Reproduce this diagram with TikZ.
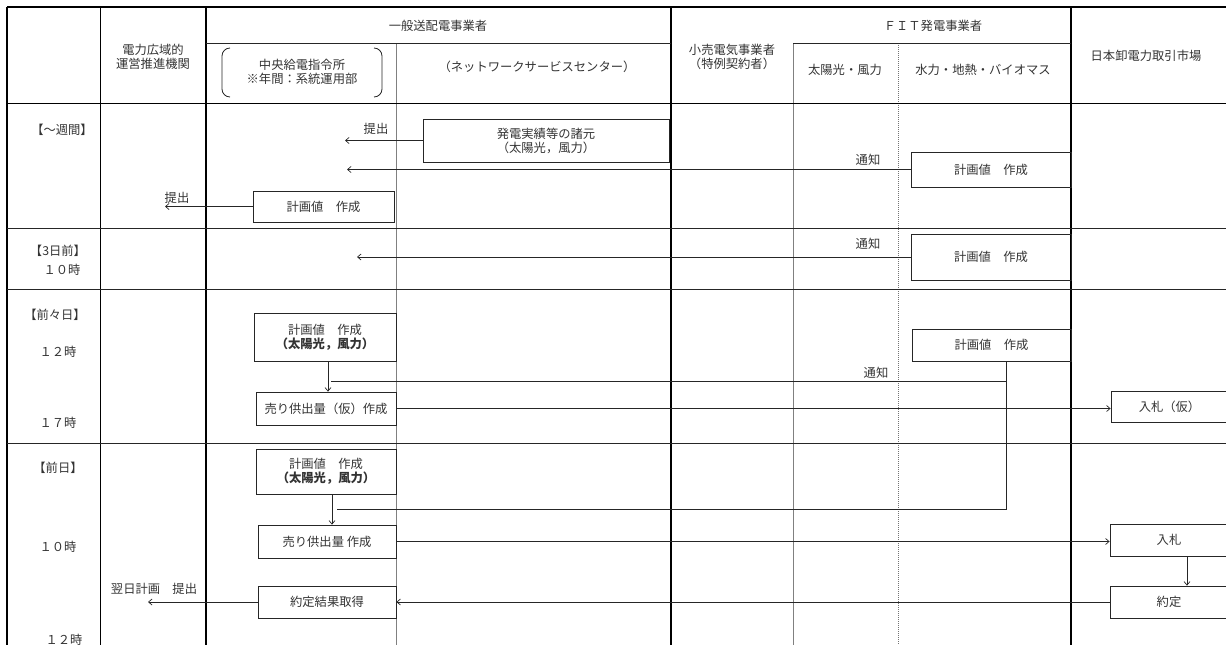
\documentclass[tikz,border=0pt]{standalone}
\usepackage{fontspec}
\setmainfont{Noto Sans CJK JP}
\usetikzlibrary{arrows.meta}
\begin{document}
\begin{tikzpicture}[x=1pt,y=-1pt,
  font=\fontsize{12.3}{14}\selectfont,
  txt/.style={text=black!80, inner sep=0pt, align=center},
  box/.style={draw=black!85, line width=0.8pt, text=black!80, inner sep=0pt, align=center},
  arr/.style={draw=black!85, line width=0.7pt, -{Straight Barb[length=3.5pt,width=6pt]}},
  ln/.style={draw=black!85, line width=0.7pt},
  thickl/.style={line width=1.4pt, black},
  medl/.style={line width=1pt, black},
  thinl/.style={line width=0.8pt, black!85},
  grayl/.style={line width=0.7pt, black!50},
  dotl/.style={line width=0.7pt, black!55, dash pattern=on 1pt off 1pt},
]
\useasboundingbox (0,0) rectangle (1226,645);
\clip (0,0) rectangle (1226,645);
% grid
\draw[thickl] (7,7) -- (1226,7);
\draw[thickl] (7,7) -- (7,645);
\draw[medl] (100,7) -- (100,645);
\draw[thickl] (206,7) -- (206,645);
\draw[thickl] (671,7) -- (671,645);
\draw[thickl] (1071,7) -- (1071,645);
\draw[grayl] (396,43) -- (396,645);
\draw[grayl] (793,43) -- (793,645);
\draw[dotl] (898,43) -- (898,645);
\draw[thinl] (206,43) -- (671,43);
\draw[thinl] (793,43) -- (1071,43);
\draw[medl] (7,103) -- (1226,103);
\foreach \yy in {228,289,443} \draw[thinl] (7,\yy) -- (1226,\yy);
% bracket
\draw[black!85, line width=0.8pt] (230,48) to[out=180,in=90] (222,56) -- (222,89) to[out=-90,in=180] (230,97);
\draw[black!85, line width=0.8pt] (374,48) to[out=0,in=90] (382,56) -- (382,89) to[out=-90,in=0] (374,97);
% header texts
\node[txt] (h1) at (438,26) {一般送配電事業者};
\node[txt] (h2) at (933,26) {ＦＩＴ発電事業者};
\node[txt] (h3) at (153,57) {電力広域的\\運営推進機関};
\node[txt] (h4) at (302,72) {中央給電指令所\\※年間：系統運用部};
\node[txt] (h5) at (537,67) {（ネットワークサービスセンター）};
\node[txt] (h6) at (732,57) {小売電気事業者\\（特例契約者）};
\node[txt] (h7) at (845,70) {太陽光・風力};
\node[txt] (h8) at (983,70) {水力・地熱・バイオマス};
\node[txt] (h9) at (1146,56) {日本卸電力取引市場};
% row labels
\node[txt] (r1) at (62,130) {【～週間】};
\node[txt] (r2) at (58,251) {【3日前】};
\node[txt] (r2t) at (62,270) {１０時};
\node[txt] (r3) at (55,315) {【前々日】};
\node[txt] (r3a) at (58,352) {１２時};
\node[txt] (r3b) at (58,423) {１７時};
\node[txt] (r4) at (58,468) {【前日】};
\node[txt] (r4a) at (58,547) {１０時};
\node[txt] (r4b) at (64,640) {１２時};
% boxes
\node[box, minimum width=246pt, minimum height=43pt] (spec) at (546,140.5) {発電実績等の諸元\\（太陽光，風力）};
\node[box, minimum width=160pt, minimum height=35pt] (fitA) at (991,169.5) {計画値　作成};
\node[box, minimum width=141pt, minimum height=31pt] (planA) at (323.5,206.5) {計画値　作成};
\node[box, minimum width=160pt, minimum height=46pt] (fitB) at (991,257) {計画値　作成};
\node[box, minimum width=142pt, minimum height=48pt] (planC) at (325,337) {計画値　作成\\{\bfseries （太陽光，風力）}};
\node[box, minimum width=140pt, minimum height=33pt] (sellC) at (326,408.5) {売り供出量（仮）作成};
\node[box, minimum width=159pt, minimum height=32pt] (fitC) at (991.5,345) {計画値　作成};
\node[box, minimum width=117pt, minimum height=31pt] (bidC) at (1169.5,406.5) {入札（仮）};
\node[box, minimum width=140pt, minimum height=45pt] (planD) at (326,471.5) {計画値　作成\\{\bfseries （太陽光，風力）}};
\node[box, minimum width=138pt, minimum height=33pt] (sellD) at (327,541.5) {売り供出量 作成};
\node[box, minimum width=138pt, minimum height=32pt] (resD) at (327,602) {約定結果取得};
\node[box, minimum width=118pt, minimum height=32pt] (bidD) at (1169,540) {入札};
\node[box, minimum width=118pt, minimum height=32pt] (yak) at (1169,602) {約定};
% free ends
\coordinate (e1) at (345,140.5);
\coordinate (e2) at (347,169.5);
\coordinate (e3) at (165,206.5);
\coordinate (e4) at (357,257);
\coordinate (e5) at (148,602);
\coordinate (k) at (1006,381);
\coordinate (j1) at (331,381);
\coordinate (j2) at (337,509);
% connectors
\draw[arr] (spec.west) -- (e1);
\draw[arr] (fitA.west) -- (e2);
\draw[arr] (planA.west) -- (e3);
\draw[arr] (fitB.west) -- (e4);
\draw[arr] ([xshift=3pt]planC.south) -- ([xshift=3pt]planC.south |- sellC.north);
\draw[ln] (fitC.south -| k) -- (k) -- (j1);
\draw[ln] (k) -- (k |- j2) -- (j2);
\draw[arr] (sellC.east) -- (sellC.east -| bidC.west);
\draw[arr] ([xshift=6pt]planD.south) -- ([xshift=6pt]planD.south |- sellD.north);
\draw[arr] (sellD.east) -- (sellD.east -| bidD.west);
\draw[arr] ([xshift=18pt]bidD.south) -- ([xshift=18pt]bidD.south |- yak.north);
\draw[arr] (yak.west) -- (resD.east);
\draw[arr] (resD.west) -- (e5);
% labels
\node[txt] (l1) at (376,129) {提出};
\node[txt] (l2) at (868,160) {通知};
\node[txt] (l3) at (177,198) {提出};
\node[txt] (l4) at (868,244) {通知};
\node[txt] (l5) at (876,373) {通知};
\node[txt] (l6) at (154,589) {翌日計画　提出};
\end{tikzpicture}
\end{document}
